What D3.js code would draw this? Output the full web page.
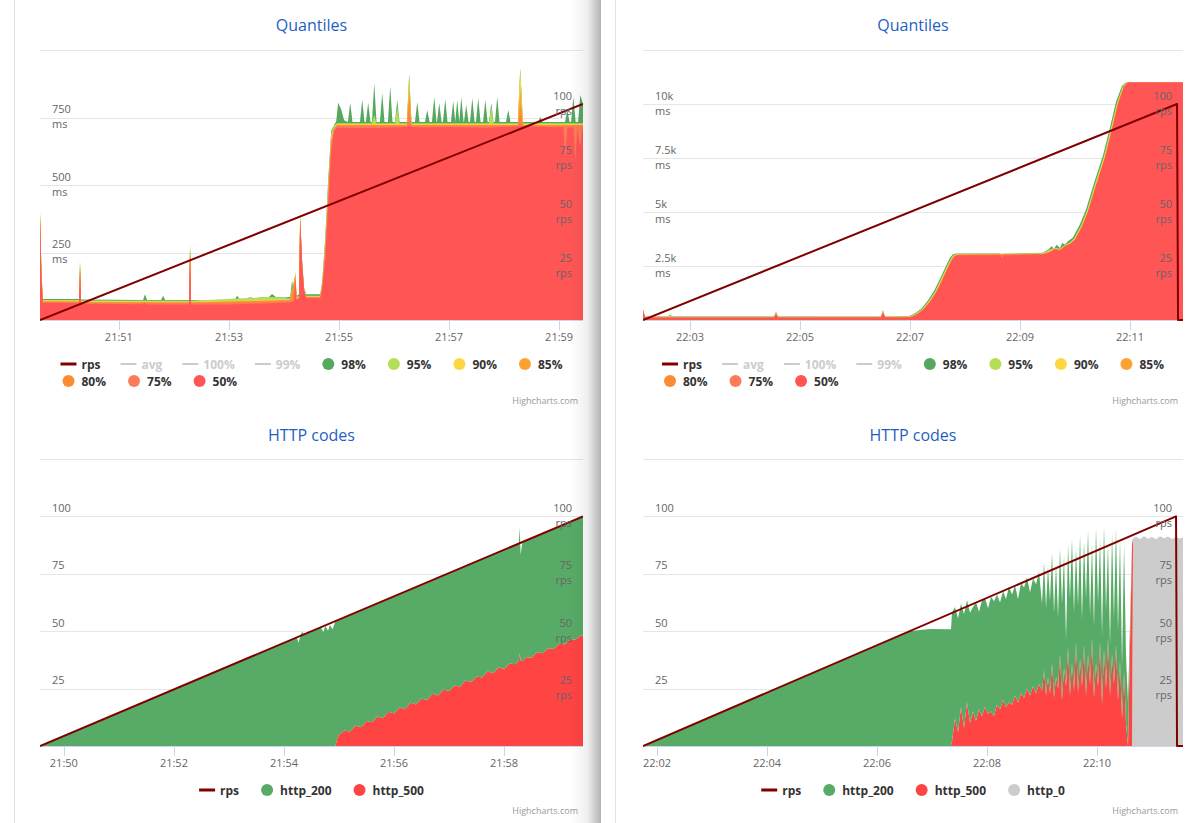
<!DOCTYPE html>
<html>
<head>
<meta charset="utf-8">
<script src="https://cdn.jsdelivr.net/npm/d3@7/dist/d3.min.js"></script>
<style>
html,body{margin:0;padding:0;background:#fff;}
svg{display:block;}
</style>
</head>
<body>
<svg id="chart" width="1198" height="823"></svg>
<script>
// ================= DATA =================
// ---- Top-left "Quantiles" (time = seconds after 21:49:00, values in ms) ----
const qlDomain = [34, 626];
const qlTickTimes = [120, 240, 360, 480, 600];
const qlTickLabels = ["21:51", "21:53", "21:55", "21:57", "21:59"];
const qlMsTicks = [250, 500, 750, 1000];
const qlMsLabels = ["250", "500", "750", ""];
const qlRps = [[34, 0], [626, 100]];
const qlQ98 = [[34,400],[35.5,200],[37,78],[77,78],[77.6,222],[78.7,76],[146.4,74],[148.5,95],[150.7,74],[166,74],[168.2,90],[170.4,74],[196.5,74],[197.6,280],[198.7,74],[219.5,72],[246,74],[249,90],[252,76],[257.6,78],[263,84],[268.5,80],[276,84],[282.7,82],[287,96],[291.5,84],[301.3,83],[306.7,86],[308.9,148],[311,86],[312.2,180],[313.8,90],[316.5,95],[317.6,385],[319.8,220],[321.9,120],[324,95],[339.5,95],[341.6,140],[344.9,300],[348.2,520],[351.5,700],[354.7,722],[356.9,735],[359.1,805],[362.4,780],[365.6,740],[369.7,733],[372.2,805],[374.7,733],[382.8,733],[385.3,815],[387.8,733],[389.3,733],[391.8,805],[394.3,733],[395.9,733],[398.4,878],[400.9,733],[404.6,733],[407.1,841],[409.6,733],[413.3,733],[415.8,866],[418.3,733],[421,733],[423.5,815],[426,733],[434,733],[436.5,911],[439,733],[442.8,733],[445.3,807],[447.8,733],[453.7,733],[456.2,778],[458.7,733],[461.3,733],[463.8,826],[466.3,733],[466.8,733],[469.3,804],[471.8,733],[473.3,733],[475.8,818],[478.3,733],[482,733],[484.5,811],[486.7,733],[488.9,815],[491.1,733],[493.3,826],[495.8,733],[496.2,733],[498.7,796],[501.2,733],[502.8,733],[505.3,822],[507.8,733],[509.3,733],[511.8,822],[514.3,733],[517,733],[519.5,815],[522,733],[523.5,733],[526,804],[528.5,733],[530,733],[532.5,826],[535,733],[542,733],[544.5,778],[547,733],[555,733],[557.6,933],[560.5,733],[577,733],[579.5,752],[582,733],[606.4,733],[608.9,778],[611.4,733],[613,733],[615.5,826],[618,733],[620.6,733],[623.1,833],[626,800]];
const qlQ95 = [[34,395],[35.5,190],[37,74],[77,74],[77.6,215],[78.7,72],[196.5,71],[197.6,272],[198.7,71],[249,80],[287,85],[306.7,80],[308.9,120],[311,80],[312.2,175],[313.8,85],[316.5,90],[317.6,382],[319.8,215],[321.9,115],[324,90],[339.5,90],[341.6,135],[344.9,285],[348.2,500],[351.5,690],[354.7,720],[358,729],[395.9,729],[398.4,760],[400.9,729],[421,729],[423.5,790],[426,729],[434,729],[436.5,905],[439,729],[523.5,729],[526,790],[528.5,729],[555,729],[557.6,928],[560.5,729],[626,729]];
const qlQ90 = [[34,390],[35.5,185],[37,71],[77,71],[77.6,210],[78.7,69],[196.5,68],[197.6,265],[198.7,68],[306.7,76],[312.2,168],[313.8,80],[316.5,86],[317.6,380],[319.8,212],[321.9,112],[324,88],[339.5,88],[341.6,130],[344.9,270],[348.2,480],[351.5,680],[354.7,716],[358,726],[434,726],[436.5,895],[439,726],[555,726],[557.6,925],[560.5,726],[626,726]];
const qlQ85 = [[34,385],[35.5,180],[37,69],[77,69],[77.6,205],[78.7,67],[196.5,66],[197.6,262],[198.7,66],[306.7,74],[312.2,165],[313.8,78],[316.5,84],[317.6,378],[319.8,210],[321.9,110],[324,86],[339.5,86],[341.6,126],[344.9,262],[348.2,470],[351.5,672],[354.7,712],[358,723],[434,723],[436.5,865],[439,723],[555,723],[557.6,860],[560.5,723],[626,723]];
const qlQ80 = [[34,383],[35.5,175],[37,68],[77,68],[77.6,200],[78.7,66],[196.5,65],[197.6,258],[198.7,65],[306.7,72],[312.2,160],[313.8,77],[316.5,83],[317.6,376],[319.8,208],[321.9,108],[324,85],[339.5,85],[341.6,123],[344.9,255],[348.2,460],[351.5,665],[354.7,710],[358,721],[434,721],[436.5,820],[439,721],[555,721],[557.6,800],[560.5,721],[626,721]];
const qlQ75 = [[34,380],[35.5,170],[37,66],[77,66],[77.6,196],[78.7,64],[143,61],[148.5,66],[150,61],[196.5,63],[197.6,255],[198.7,63],[241,62],[263,65],[285,67],[306.7,70],[311,74],[312.2,155],[313.8,77],[316.5,82],[317.6,374],[319.8,205],[321.9,113],[324,84],[339.5,84],[341.6,118],[344.9,240],[348.2,445],[351.5,652],[354.7,708],[358,719],[434,719],[436.5,760],[439,719],[555,719],[557.6,750],[560.5,719],[626,719]];
const qlQ50 = [[34,375],[35.5,150],[37,64],[55.8,64],[76.5,62],[77.6,190],[78.7,60],[99.5,59],[143,58],[148.5,62],[150,57],[196.5,57],[197.6,250],[198.7,57],[241,57],[263,60],[285,62],[306.7,65],[311,70],[312.2,150],[313.3,74],[316.5,80],[317.6,370],[319.8,200],[321.9,108],[324,81],[339.5,81],[341.6,110],[344.9,220],[348.2,420],[351.5,620],[354.7,700],[358,712],[400,711],[436.5,716],[450,713],[480,715],[520,712],[557.6,718],[600,714],[604.5,715],[606.7,605],[608.9,712],[615.5,714],[617.6,590],[619.8,705],[623,640],[625.2,700],[626,712]];

// ---- Top-right "Quantiles" (time = seconds after 22:00:00, values in ms) ----
const qrDomain = [128.7, 717.8];
const qrTickTimes = [180, 300, 420, 540, 660];
const qrTickLabels = ["22:03", "22:05", "22:07", "22:09", "22:11"];
const qrMsTicks = [2500, 5000, 7500, 10000, 12500];
const qrMsLabels = ["2.5k", "5k", "7.5k", "10k", ""];
const qrRps = [[128.7, 0], [711.3, 100], [712.4, 0], [717.8, 0]];
const qrQ98 = [[128.7,470],[130.9,160],[156,160],[158.2,260],[160.4,160],[271.6,160],[273.8,380],[276,160],[388.3,165],[390.5,450],[392.7,165],[413,170],[420,200],[426.5,330],[433,560],[439.5,900],[446,1330],[452.6,1900],[459.2,2500],[463.5,2880],[466.8,3040],[470,3080],[518.2,3080],[520.4,2950],[522.5,3070],[565,3110],[570.5,3250],[574.5,3420],[577,3300],[580,3480],[583.6,3330],[586,3560],[589.1,3500],[592,3640],[597.7,3820],[605.3,4420],[612,5120],[620.6,6320],[630.5,7620],[638.2,8920],[644.7,10100],[651.3,10850],[655.6,11000],[717.8,11000]];
const qrQ95 = [[128.7,460],[130.9,150],[156,150],[158.2,220],[160.4,150],[271.6,150],[273.8,340],[276,150],[388.3,155],[390.5,420],[392.7,155],[414,160],[421,190],[427,310],[434,540],[440.5,880],[447,1300],[453.5,1870],[460,2470],[464.5,2850],[467.8,3020],[471,3060],[565,3090],[572,3250],[578,3350],[583.6,3300],[589.1,3480],[594.5,3600],[599,3780],[606.5,4380],[613,5070],[621.6,6270],[631.5,7580],[639,8880],[645.7,10060],[652.3,10830],[656.6,11000],[717.8,11000]];
const qrQ90 = [[128.7,450],[130.9,140],[271.6,140],[273.8,310],[276,140],[388.3,145],[390.5,400],[392.7,145],[414.5,150],[421.5,175],[427.7,300],[434.5,530],[441,860],[447.6,1280],[454,1850],[460.6,2450],[465,2830],[468.5,3000],[471.5,3040],[565,3070],[572,3200],[578,3320],[583.6,3260],[589.1,3460],[594.5,3560],[599.5,3750],[607,4350],[613.6,5040],[622.2,6240],[632,7550],[639.7,8850],[646.2,10040],[652.8,10820],[657.2,11000],[717.8,11000]];
const qrQ85 = [[128.7,440],[130.9,130],[271.6,130],[273.8,290],[276,130],[388.3,135],[390.5,380],[392.7,135],[415,140],[422,165],[428.2,295],[435,520],[441.4,850],[448,1270],[454.5,1830],[461,2430],[465.4,2810],[468.8,2990],[472,3030],[565,3060],[572.7,3180],[578.2,3310],[583.6,3250],[589.1,3450],[594.5,3545],[600,3740],[607.3,4330],[614,5020],[622.6,6220],[632.4,7530],[640,8830],[646.6,10020],[653.2,10810],[657.5,11000],[717.8,11000]];
const qrQ80 = [[128.7,430],[130.9,120],[271.6,120],[273.8,275],[276,120],[388.3,125],[390.5,360],[392.7,125],[415.3,130],[422.2,155],[428.5,290],[435.2,515],[441.6,840],[448.2,1260],[454.7,1820],[461.3,2420],[465.6,2800],[469,2980],[472.2,3020],[565,3055],[572.7,3160],[578.2,3300],[583.6,3240],[589.1,3440],[594.5,3530],[600,3720],[607.5,4320],[614.1,5010],[622.8,6210],[632.6,7515],[640.3,8815],[646.8,10010],[653.4,10805],[657.7,11000],[717.8,11000]];
const qrQ75 = [[128.7,425],[130.9,112],[271.6,112],[273.8,262],[276,112],[388.3,117],[390.5,345],[392.7,117],[415.5,122],[422.2,147],[428.6,285],[435.3,512],[441.7,835],[448.3,1255],[454.8,1815],[461.4,2415],[465.7,2790],[469.1,2970],[472.4,3010],[565,3048],[572.7,3150],[578.2,3292],[583.6,3230],[589.1,3430],[594.5,3520],[600,3710],[607.6,4310],[614.2,5005],[622.9,6205],[632.7,7505],[640.4,8805],[646.9,10005],[653.5,10802],[657.8,11000],[717.8,11000]];
const qrQ50 = [[128.7,420],[130.9,100],[136.4,105],[271.6,105],[273.8,250],[276,105],[388.3,110],[390.5,330],[392.7,110],[415.6,115],[422.2,140],[428.7,280],[435.3,510],[441.8,830],[448.4,1250],[454.9,1810],[461.5,2410],[465.8,2780],[469.1,2960],[472.4,3000],[518.2,3000],[520.4,2870],[522.5,2990],[567.3,3040],[572.7,3140],[578.2,3280],[583.6,3220],[589.1,3420],[594.5,3510],[600,3700],[607.6,4300],[614.2,5000],[622.9,6200],[632.7,7500],[640.4,8800],[646.9,10000],[653.5,10800],[657.8,11000],[717.8,11000]];

// ---- Bottom-left "HTTP codes" (time = seconds after 21:49:00) ----
const hlDomain = [34, 626];
const hlTickTimes = [60, 180, 300, 420, 540];
const hlTickLabels = ["21:50", "21:52", "21:54", "21:56", "21:58"];
const hlRps = [[34, 0], [626, 100]];
const hlTime = [34,314,316,318,320,322,340,343,345,348,350,353,356,358,
  360,366,372,378,384,390,396,402,408,414,420,426,432,438,444,450,456,462,468,474,480,486,492,498,504,510,516,522,528,534,540,546,
  552,556,557,558,560,564,570,576,582,588,594,600,606,612,618,624,626];
const hl200 = [0,47.3,45.0,48.3,49.8,48.6,51.7,49.6,52.4,50.2,52.7,50.9,54.4,51.7,
  50.1,49.3,50.8,49.2,50.9,49.2,50.9,49.4,51.1,49.3,51.0,49.4,51.2,49.3,51.2,49.6,51.3,49.5,51.3,49.7,51.3,50.0,51.6,49.9,51.5,50.1,51.6,50.0,51.8,50.3,51.9,50.6,
  51.9,51.2,54.7,46.2,51.9,50.9,52.0,50.8,52.2,51.0,52.3,51.0,52.4,51.1,52.3,51.6,52.0];
const hl500 = [0,0,0,0,0,0,0,0,0,0,0,0,0,3.0,
  5.0,6.8,6.3,8.9,8.2,10.9,10.3,12.8,12.1,14.9,14.2,16.8,16.0,18.9,18.1,20.7,20.0,22.8,22.0,24.6,24.0,26.4,25.8,28.5,27.9,30.3,29.8,32.4,31.7,34.2,33.6,35.9,
  35.6,37.0,40.5,37.2,37.0,38.6,38.5,40.8,40.4,42.6,42.3,44.6,44.2,46.5,46.4,48.1,48.0];

// ---- Bottom-right "HTTP codes" (time = seconds after 22:00:00) ----
const hrDomain = [104.7, 693.8];
const hrTickTimes = [120, 240, 360, 480, 600];
const hrTickLabels = ["22:02", "22:04", "22:06", "22:08", "22:10"];
const hrRps = [[104.7, 0], [686.2, 100], [687.3, 0], [693.8, 0]];
const hrTime = [104.7,396.0,417.8,440.7,
  441.8,445.1,448.4,451.6,454.9,458.2,461.5,464.7,468.0,471.3,474.5,477.8,481.1,484.4,487.6,490.9,494.2,497.5,500.7,504.0,507.3,510.5,513.8,517.1,520.4,523.6,526.9,530.2,533.5,536.7,
  540.0,542.2,544.4,546.5,548.7,550.9,553.1,555.3,557.5,559.6,561.8,564.0,566.2,568.4,570.5,572.7,574.9,577.1,579.3,581.5,583.6,585.8,588.0,590.2,592.4,594.5,596.7,598.9,601.1,603.3,605.5,607.6,609.8,612.0,614.2,616.4,618.5,620.7,622.9,625.1,627.3,629.5,631.6,
  633.8,638.2,639.3,642.5,646.9,651.3,655.6,660.0,664.4,668.7,673.1,677.5,681.8,686.2,690.5,693.8];
const hr200 = [0,50.1,51.0,50.8,
  56.0,48.5,49.5,45.0,49.5,44.5,48.0,45.5,51.5,42.5,50.5,47.5,46.0,50.0,50.0,48.0,46.5,47.5,47.0,50.5,48.0,48.0,45.0,48.0,48.0,48.5,45.0,47.0,47.5,49.0,
  38,47,38,48,40,48,37,49,31,46,42,49,20,45,42,54,34,41,38,54,29,45,42,54,30,41,31,59,36,45,30,54,34,41,22,53,28,51,30,53,23,56,30,
  19,0,0,0,0,0,0,0,0,0,0,0,0,0,0,0];
const hr500 = [0,0,0,0,
  2,12,6,17,8,19,10,15,11,16,13,17,14,15,13,18,16,20,17,19,18,22,19,23,21,25,22,26,23,27,
  24,33,22,30,23,36,21,30,25,40,20,34,26,43,22,36,24,45,23,38,26,44,22,40,27,47,21,36,26,45,18,42,25,47,22,40,27,44,20,37,12,32,10,
  0,88,0,0,0,0,0,0,0,0,0,0,0,0,0,0];
const hr0 = [0,0,0,0,
  0,0,0,0,0,0,0,0,0,0,0,0,0,0,0,0,0,0,0,0,0,0,0,0,0,0,0,0,0,0,
  0,0,0,0,0,0,0,0,0,0,0,0,0,0,0,0,0,0,0,0,0,0,0,0,0,0,0,0,0,0,0,0,0,0,0,0,0,0,0,0,0,0,0,
  0,0,90.5,91.2,90.0,91.5,90.3,91.0,90.1,91.4,90.5,91.2,90.2,91.0,90.4,90.8];

// shared axis texts
const rpsTicks = [25, 50, 75, 100];
const rpsLabels = ["25", "50", "75", "100"];
const httpTicks = [25, 50, 75, 100, 125];
const httpLabels = ["25", "50", "75", "100", ""];
const quantileNames = ["98%", "95%", "90%", "85%", "80%", "75%", "50%"];
const quantileColors = ["#57a85f", "#b5de58", "#fdd742", "#fca233", "#fd8c30", "#fe7b58", "#ff5555"];
const hiddenNames = ["avg", "100%", "99%"];

// ================= DRAWING =================
const FONT = "'Open Sans', 'Noto Sans', 'DejaVu Sans', sans-serif";
const svg = d3.select("#chart");
const RPS_COLOR = "#800000";
const GREEN = "#57ab66", RED = "#ff4444", GREY = "#cccccc";
const defs = svg.append("defs");

function frame(p, id) {
  defs.append("clipPath").attr("id", id).append("rect")
    .attr("x", p.l).attr("y", p.t - 1).attr("width", p.r - p.l).attr("height", p.b - p.t + 2);
}

function title(cx, y, txt) {
  svg.append("text").attr("x", cx).attr("y", y).attr("text-anchor", "middle")
    .style("font-family", FONT).style("font-size", "16px").attr("fill", "#1f5fc3").text(txt);
}

function grid(p, y, ticks) {
  svg.append("g").selectAll("line").data(ticks).join("line")
    .attr("x1", p.l).attr("x2", p.r)
    .attr("y1", d => Math.round(y(d)) + 0.5).attr("y2", d => Math.round(y(d)) + 0.5)
    .attr("stroke", "#e6e6e6").attr("stroke-width", 1);
}

function yLabels(p, y, ticks, labels, unit, side) {
  const g = svg.append("g").style("font-family", FONT).style("font-size", "11px").attr("fill", "#666");
  ticks.forEach((t, i) => {
    if (!labels[i]) return;
    const yy = y(t);
    const x = side === "left" ? p.l + 12 : p.r - 11;
    const anchor = side === "left" ? "start" : "end";
    g.append("text").attr("x", x).attr("y", yy - 4.5).attr("text-anchor", anchor).text(labels[i]);
    if (unit) g.append("text").attr("x", x).attr("y", yy + 10.5).attr("text-anchor", anchor).text(unit);
  });
}

function xAxis(p, x, ticks, labels) {
  const g = svg.append("g");
  g.append("line").attr("x1", p.l).attr("x2", p.r).attr("y1", p.b + 0.5).attr("y2", p.b + 0.5)
    .attr("stroke", "#ccd6eb");
  g.selectAll("line.t").data(ticks).join("line").attr("class", "t")
    .attr("x1", d => Math.round(x(d)) + 0.5).attr("x2", d => Math.round(x(d)) + 0.5)
    .attr("y1", p.b).attr("y2", p.b + 10).attr("stroke", "#ccd6eb");
  g.selectAll("text").data(ticks).join("text")
    .attr("x", d => x(d)).attr("y", p.b + 21).attr("text-anchor", "middle")
    .style("font-family", FONT).style("font-size", "11px").attr("fill", "#666")
    .text((d, i) => labels[i]);
}

function rpsLine(p, x, y, data, clip) {
  svg.append("path").attr("clip-path", `url(#${clip})`)
    .datum(data).attr("fill", "none").attr("stroke", RPS_COLOR).attr("stroke-width", 2)
    .attr("stroke-linejoin", "round")
    .attr("d", d3.line().x(d => x(d[0])).y(d => y(d[1])));
}

function legend(rows, cx, y0, rowH) {
  const g = svg.append("g").style("font-family", FONT).style("font-size", "12px").style("font-weight", "bold");
  const measure = g.append("text");
  rows.forEach(row => row.forEach(it => { measure.text(it.name); it.w = measure.node().getComputedTextLength(); }));
  measure.remove();
  const widths = rows.map(row => d3.sum(row, it => 21 + it.w) + 20 * (row.length - 1));
  const x0 = cx - d3.max(widths) / 2;
  rows.forEach((row, ri) => {
    let x = x0;
    const yc = y0 + ri * rowH;
    row.forEach(it => {
      const col = it.hidden ? "#cccccc" : it.color;
      if (it.type === "line") {
        g.append("line").attr("x1", x).attr("x2", x + 16).attr("y1", yc).attr("y2", yc)
          .attr("stroke", col).attr("stroke-width", it.hidden ? 2 : 3);
      } else {
        g.append("circle").attr("cx", x + 8).attr("cy", yc).attr("r", 6).attr("fill", col);
      }
      g.append("text").attr("x", x + 21).attr("y", yc + 4.5).attr("fill", it.hidden ? "#cccccc" : "#333333").text(it.name);
      x += 21 + it.w + 20;
    });
  });
}

function credit(x, y) {
  svg.append("text").attr("x", x).attr("y", y).attr("text-anchor", "end")
    .style("font-family", FONT).style("font-size", "9px").attr("fill", "#999").text("Highcharts.com");
}

// ---------- Quantile chart ----------
function quantileChart(p, id, domain, tickTimes, tickLabels, msMax, msTicks, msLabels, series, rps) {
  frame(p, id);
  const x = d3.scaleLinear().domain(domain).range([p.l, p.r]);
  const yMs = d3.scaleLinear().domain([0, msMax]).range([p.b, p.t]);
  const yR = d3.scaleLinear().domain([0, 125]).range([p.b, p.t]);
  const cx = (p.l + p.r) / 2;
  title(cx, 31, "Quantiles");
  grid(p, yMs, msTicks);
  const area = d3.area().x(d => x(d[0])).y0(yMs(0)).y1(d => yMs(d[1]));
  const ga = svg.append("g").attr("clip-path", `url(#${id})`);
  series.forEach((s, i) => {
    ga.append("path").datum(s).attr("fill", quantileColors[i]).attr("d", area);
  });
  xAxis(p, x, tickTimes, tickLabels);
  rpsLine(p, x, yR, rps, id);
  yLabels(p, yMs, msTicks, msLabels, "ms", "left");
  yLabels(p, yR, rpsTicks, rpsLabels, "rps", "right");
  const row1 = [{ name: "rps", type: "line", color: RPS_COLOR }]
    .concat(hiddenNames.map(n => ({ name: n, type: "line", hidden: true })))
    .concat(quantileNames.slice(0, 4).map((n, i) => ({ name: n, type: "circle", color: quantileColors[i] })));
  const row2 = quantileNames.slice(4).map((n, i) => ({ name: n, type: "circle", color: quantileColors[i + 4] }));
  legend([row1, row2], cx, 364, 17);
  credit(p.r - 5, 404);
}

// ---------- HTTP codes chart ----------
function httpChart(p, id, domain, tickTimes, tickLabels, time, cols, legendCols, rps) {
  frame(p, id);
  const x = d3.scaleLinear().domain(domain).range([p.l, p.r]);
  const y = d3.scaleLinear().domain([0, 125]).range([p.b, p.t]);
  const cx = (p.l + p.r) / 2;
  title(cx, 441, "HTTP codes");
  grid(p, y, httpTicks);
  const rows = time.map((t, i) => {
    const r = { t };
    cols.forEach(c => r[c.name] = c.values[i]);
    return r;
  });
  const keys = cols.map(c => c.name);
  const stacked = d3.stack().keys(keys)(rows);
  const area = d3.area().x(d => x(d.data.t)).y0(d => y(d[0])).y1(d => y(d[1]));
  const ga = svg.append("g").attr("clip-path", `url(#${id})`);
  stacked.forEach((s, i) => ga.append("path").datum(s).attr("fill", cols[i].color).attr("d", area));
  xAxis(p, x, tickTimes, tickLabels);
  rpsLine(p, x, y, rps, id);
  yLabels(p, y, httpTicks, httpLabels, null, "left");
  yLabels(p, y, rpsTicks, rpsLabels, "rps", "right");
  const items = [{ name: "rps", type: "line", color: RPS_COLOR }]
    .concat(legendCols.map(c => ({ name: c.name, type: "circle", color: c.color })));
  legend([items], cx, 790, 17);
  credit(p.r - 5, 814);
}

// panel borders
svg.append("line").attr("x1", 14.5).attr("x2", 14.5).attr("y1", 0).attr("y2", 823).attr("stroke", "#e2e2e2");
svg.append("line").attr("x1", 615.5).attr("x2", 615.5).attr("y1", 0).attr("y2", 823).attr("stroke", "#e2e2e2");

const PL = { l: 40, r: 583, t: 50, b: 320 };
const PR = { l: 643, r: 1183, t: 50, b: 320 };
const PLB = { l: 40, r: 583, t: 459, b: 746 };
const PRB = { l: 643, r: 1183, t: 459, b: 746 };

quantileChart(PL, "cql", qlDomain, qlTickTimes, qlTickLabels, 1000, qlMsTicks, qlMsLabels,
  [qlQ98, qlQ95, qlQ90, qlQ85, qlQ80, qlQ75, qlQ50], qlRps);
quantileChart(PR, "cqr", qrDomain, qrTickTimes, qrTickLabels, 12500, qrMsTicks, qrMsLabels,
  [qrQ98, qrQ95, qrQ90, qrQ85, qrQ80, qrQ75, qrQ50], qrRps);

const c200 = { name: "http_200", color: GREEN };
const c500 = { name: "http_500", color: RED };
const c0 = { name: "http_0", color: GREY };

httpChart(PLB, "chl", hlDomain, hlTickTimes, hlTickLabels, hlTime, [
  { name: "http_500", values: hl500, color: RED },
  { name: "http_200", values: hl200, color: GREEN }
], [c200, c500], hlRps);
httpChart(PRB, "chr", hrDomain, hrTickTimes, hrTickLabels, hrTime, [
  { name: "http_0", values: hr0, color: GREY },
  { name: "http_500", values: hr500, color: RED },
  { name: "http_200", values: hr200, color: GREEN }
], [c200, c500, c0], hrRps);

// shadow at the right edge of the left panel
const grad = defs.append("linearGradient").attr("id", "shade").attr("x1", 0).attr("x2", 1).attr("y1", 0).attr("y2", 0);
grad.append("stop").attr("offset", 0).attr("stop-color", "#000").attr("stop-opacity", 0);
grad.append("stop").attr("offset", 0.55).attr("stop-color", "#000").attr("stop-opacity", 0.06);
grad.append("stop").attr("offset", 1).attr("stop-color", "#000").attr("stop-opacity", 0.3);
svg.append("rect").attr("x", 570).attr("y", 0).attr("width", 31).attr("height", 823).attr("fill", "url(#shade)");
</script>
</body>
</html>
